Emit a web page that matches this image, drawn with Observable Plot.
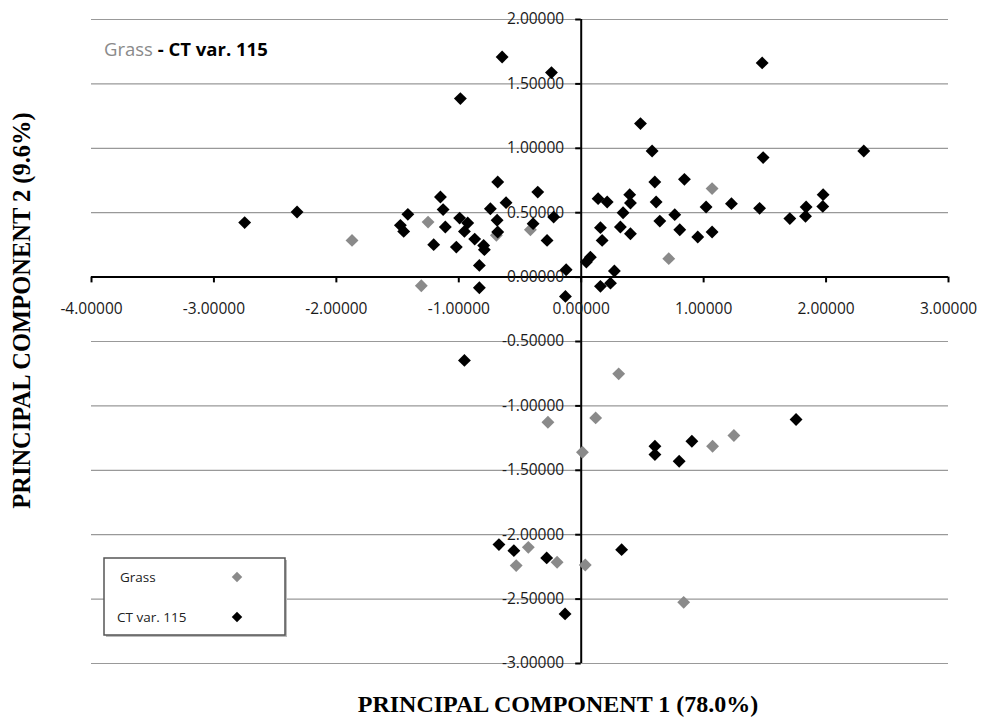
<!DOCTYPE html>
<html>
<head>
<meta charset="utf-8">
<script src="https://cdn.jsdelivr.net/npm/d3@7"></script>
<script src="https://cdn.jsdelivr.net/npm/@observablehq/plot@0.6"></script>
<style>
  html, body { margin: 0; padding: 0; background: #fff; }
  #chart { width: 982px; height: 725px; }
</style>
</head>
<body>
<div id="chart"></div>
<script>
// Series: Grass (grey)
const grassX = [-1.872, -1.251, -1.306, -0.693, -0.415, 0.715, 1.069, 0.306, -0.272, 0.118, 0.010, 1.073, 1.247, -0.432, -0.531, -0.197, 0.033, 0.837];
const grassY = [0.285, 0.427, -0.067, 0.324, 0.368, 0.143, 0.687, -0.751, -1.127, -1.093, -1.360, -1.313, -1.230, -2.098, -2.240, -2.214, -2.235, -2.525];

// Series: CT var. 115 (black)
const ctX = [-2.749, -2.321, -1.416, -1.477, -1.450, -1.150, -1.128, -1.110, -1.205, -1.020, -0.993, -0.927, -0.954, -0.870, -0.797, -0.791, -0.832, -0.832, -0.742, -0.682, -0.614, -0.687, -0.682, -0.355, -0.393, -0.225, -0.279, -0.123, -0.129, -0.987, -0.646, -0.243,
  0.138, 0.212, 0.396, 0.402, 0.342, 0.320, 0.402, 0.157, 0.171, 0.075, 0.042, 0.271, 0.239, 0.157, 0.601, 0.612, 0.642, 0.764, 0.805, 0.843, 1.020, 0.952, 1.069, 1.227, 1.457, 0.484, 0.579, 1.478, 1.486, 2.308, 1.704, 1.837, 1.832, 1.976, 1.973,
  -0.954, 0.602, 0.602, 0.800, 0.904, 1.755, -0.672, -0.550, -0.282, 0.330, -0.132];
const ctY = [0.423, 0.505, 0.487, 0.402, 0.355, 0.622, 0.524, 0.389, 0.252, 0.233, 0.458, 0.420, 0.355, 0.295, 0.246, 0.213, 0.091, -0.083, 0.531, 0.738, 0.578, 0.441, 0.350, 0.660, 0.415, 0.466, 0.285, 0.057, -0.150, 1.386, 1.709, 1.588,
  0.609, 0.583, 0.640, 0.575, 0.500, 0.389, 0.337, 0.384, 0.285, 0.155, 0.117, 0.047, -0.047, -0.072, 0.738, 0.583, 0.435, 0.485, 0.368, 0.759, 0.544, 0.311, 0.350, 0.570, 0.534, 1.192, 0.979, 1.663, 0.928, 0.979, 0.454, 0.544, 0.472, 0.640, 0.549,
  -0.647, -1.313, -1.378, -1.430, -1.274, -1.106, -2.077, -2.124, -2.180, -2.116, -2.615];

// Tick labels
const xTicks = [-4, -3, -2, -1, 0, 1, 2, 3];
const yTicks = [-3, -2.5, -2, -1.5, -1, -0.5, 0, 0.5, 1, 1.5, 2];
const seriesNames = ["Grass", "CT var. 115"];
const seriesColors = ["#8a8a8a", "#000000"];
const xTitle = "PRINCIPAL COMPONENT 1 (78.0%)";
const yTitle = "PRINCIPAL COMPONENT 2 (9.6%)";

const grass = grassX.map((x, i) => ({x, y: grassY[i]}));
const ct = ctX.map((x, i) => ({x, y: ctY[i]}));
const f5 = d3.format(".5f");
const fmt = d => f5(d).replace("\u2212", "-");
const tickFont = "Open Sans, sans-serif";
const serif = "Liberation Serif, Times New Roman, serif";

const plot = Plot.plot({
  width: 982,
  height: 725,
  marginLeft: 91,
  marginRight: 34,
  marginTop: 19,
  marginBottom: 62,
  x: {domain: [-4, 3], axis: null},
  y: {domain: [-3, 2], axis: null},
  style: {background: "#fff", fontFamily: tickFont},
  marks: [
    // horizontal gridlines
    Plot.ruleY(yTicks.filter(d => d !== 0), {y: d => d, x1: -4, x2: 3, stroke: "#999", strokeWidth: 1.2}),
    // axes
    Plot.ruleY([0], {x1: -4, x2: 3, stroke: "#000", strokeWidth: 2}),
    Plot.ruleX([0], {y1: -3, y2: 2, stroke: "#000", strokeWidth: 2}),
    // tick marks
    Plot.ruleX(xTicks, {x: d => d, y1: 0, y2: -0.045, stroke: "#000", strokeWidth: 2}),
    Plot.ruleY(yTicks, {y: d => d, x1: 0, x2: -0.045, stroke: "#000", strokeWidth: 2}),
    // tick labels
    Plot.text(xTicks, {x: d => d, y: 0, text: d => fmt(d), dy: 32, fill: "#1a1a1a", fontSize: 15.5, textAnchor: "middle"}),
    Plot.text(yTicks, {x: 0, y: d => d, text: d => fmt(d), dx: -17, fill: "#1a1a1a", fontSize: 15.5, textAnchor: "end"}),
    // data
    Plot.dot(grass, {x: "x", y: "y", symbol: "diamond2", r: 5.8, fill: seriesColors[0]}),
    Plot.dot(ct, {x: "x", y: "y", symbol: "diamond2", r: 5.8, fill: seriesColors[1]}),
    // axis titles
    Plot.text([xTitle], {frameAnchor: "bottom", text: d => d, textAnchor: "middle", dx: 38, dy: 48, fontFamily: serif, fontWeight: "bold", fontSize: 24, fill: "#000"}),
    Plot.text([yTitle], {frameAnchor: "left", text: d => d, textAnchor: "middle", rotate: -90, dx: -69, dy: -31, fontFamily: serif, fontWeight: "bold", fontSize: 24.5, fill: "#000"})
  ]
});

document.getElementById("chart").appendChild(plot);

// Title inside plot area and legend box
const svg = d3.select(plot);
const t = svg.append("text")
  .attr("x", 104).attr("y", 56).attr("text-anchor", "start")
  .attr("font-family", tickFont).attr("font-size", 18.5);
t.append("tspan").attr("fill", seriesColors[0]).text(seriesNames[0]);
t.append("tspan").attr("fill", "#000").attr("font-weight", "bold").text(" - " + seriesNames[1]);

const lg = svg.append("g");
lg.append("rect")
  .attr("x", 106).attr("y", 560).attr("width", 181).attr("height", 77)
  .attr("fill", "#bbb");
lg.append("rect")
  .attr("x", 104).attr("y", 558).attr("width", 181).attr("height", 77)
  .attr("fill", "#fff").attr("stroke", "#555").attr("stroke-width", 1.5);
const sym = d3.symbol(d3.symbolDiamond2, 70);
seriesNames.forEach((name, i) => {
  const cy = 577 + i * 40;
  lg.append("text").attr("x", i === 0 ? 120 : 117).attr("y", cy).attr("dy", "0.35em")
    .attr("text-anchor", "start")
    .attr("font-family", tickFont).attr("font-size", 13.5).attr("fill", "#222").text(name);
  lg.append("path").attr("d", sym()).attr("transform", `translate(237,${cy})`).attr("fill", seriesColors[i]);
});
</script>
</body>
</html>
